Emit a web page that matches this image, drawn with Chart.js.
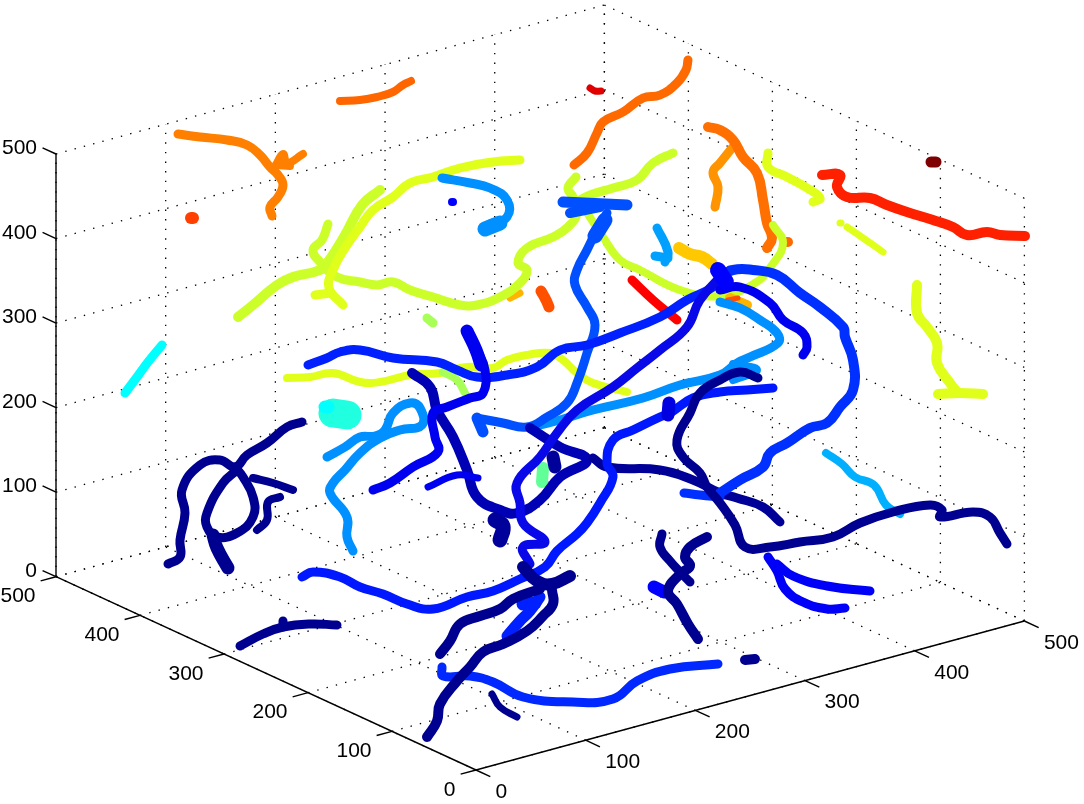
<!DOCTYPE html>
<html>
<head>
<meta charset="utf-8">
<title>3D traces</title>
<script src="https://cdn.jsdelivr.net/npm/chart.js@4/dist/chart.umd.min.js"></script>
<style>
  html, body { margin: 0; padding: 0; background: #fff; }
  canvas { display: block; }
</style>
</head>
<body>
<canvas id="plot" width="1084" height="804"></canvas>
<script>
// axis ticks, 0-500 on all three axes
const xTicks = [0, 100, 200, 300, 400, 500];
const yTicks = [0, 100, 200, 300, 400, 500];
const zTicks = [0, 100, 200, 300, 400, 500];

// traces, in projected view coordinates
const orangeMain = [[178,134],[200,137],[227,140],[247,145],[260,155],[270,167],[278,175],[283,185],[278,197],[270,207],[272,216]];
const orangeFork = [[275,167],[283,154],[287,163],[303,154]];
const orangeFork2 = [[276,165],[290,166]];
const orangeDot = [[191,218],[193,218]];
const orangeTop = [[340,101],[360,100],[377,97],[393,92],[403,85],[411,81]];
const redTick = [[590,88],[595,91],[601,91]];
const orangeLong = [[574,165],[587,153],[597,133],[603,122],[623,112],[643,98],[660,95],[677,83],[686,70],[688,60]];
const orangeRight = [[708,127],[720,130],[733,140],[743,157],[757,173],[763,200],[767,223],[772,238],[767,248]];
const amberRight = [[732,148],[720,163],[713,172],[718,187],[715,207]];
const orangeSpeck = [[787,242],[788,242]];
const redLong = [[822,175],[840,175],[837,187],[847,197],[870,198],[887,205],[907,212],[933,220],[953,227],[967,235],[987,232],[1000,235],[1025,236]];
const maroonDot = [[931,162],[936,162]];
const amberCluster = [[679,248],[690,254],[702,257],[712,264]];
const amberLow = [[730,298],[747,305]];
const emberLow = [[728,300],[738,298]];
const amberSmall = [[510,298],[520,293]];
const emberBlob = [[541,291],[546,300],[549,307]];
const redShort = [[632,280],[653,300],[677,320]];

const yellowArc = [[520,160],[493,162],[460,168],[433,177],[410,183],[393,197],[373,210],[360,227],[345,248],[333,270],[329,288],[343,305]];
const yellowFoot = [[315,295],[331,293]];
const limeArc = [[380,190],[362,205],[345,235],[328,262],[320,270],[293,277],[277,285],[253,305],[238,317]];
const limeLoop = [[328,224],[322,240],[313,250],[320,262],[337,277],[360,282],[377,285],[393,282],[410,290],[433,297],[460,305],[477,305],[500,297],[520,283],[527,270],[518,263],[527,248],[553,237],[568,227],[577,213],[573,197],[568,188],[576,177]];
const limeBranch = [[580,200],[590,195],[613,188],[637,180],[653,163],[673,153]];
const limeSweep = [[584,208],[603,237],[620,260],[640,270],[680,290],[720,296],[755,283],[772,265],[783,243],[773,225]];
const yellowHook = [[768,153],[768,167],[787,177],[807,188],[820,198],[813,202]];
const yellowDash = [[847,227],[863,238],[883,252]];
const yellowDot = [[840,223],[841,223]];
const yellowDrop = [[917,285],[917,313],[927,327],[937,343],[937,363],[950,383],[957,392]];
const yellowBase = [[938,394],[960,393],[983,394]];
const yellowMid = [[287,378],[310,377],[333,373],[360,382],[380,382],[410,375],[440,373],[467,367],[493,368],[507,360],[527,355],[550,353],[563,360],[577,373],[593,383],[627,392]];
const greenSpot = [[427,318],[433,323]];
const greenDash = [[443,372],[457,380],[465,393]];
const greenBlob = [[543,468],[542,482]];

const cyanDash = [[162,345],[148,362],[137,377],[125,393]];
const tealBlob = [[333,413],[347,415]];
const cyanBlob = [[325,407],[328,407]];
const skyLow = [[826,453],[842,464],[855,477],[874,485],[886,505],[900,514]];

const azureTop = [[442,178],[470,183],[490,188],[507,200],[507,217],[490,224]];
const azureBlob = [[485,229],[500,223]];
const blueDot = [[452,202],[453,202]];
const azureSpike = [[657,228],[668,252],[665,262]];
const azureSpur = [[655,256],[668,258]];
const azureLoop = [[327,457],[345,447],[360,437],[375,436],[385,430],[393,413],[410,403],[420,408],[422,425],[400,430],[380,438],[360,453],[345,470],[333,483],[330,493],[347,517],[347,537],[353,551]];
const azureLong = [[720,302],[740,308],[760,320],[777,333],[778,343],[750,357],[737,363],[720,375],[680,385],[643,398],[593,410],[560,420],[540,425]];
const azureKnot = [[733,364],[757,370],[733,380]];

const blueBar = [[563,202],[627,205]];
const blueBar2 = [[570,213],[600,207]];
const blueDown = [[607,213],[597,230],[587,250],[577,270],[575,285],[587,307],[595,325],[587,353],[577,383],[567,403],[547,417],[527,427],[503,423],[477,418]];
const blueDownHead = [[605,220],[595,236]];
const blueFoot = [[477,418],[483,432]];
const blueSweep = [[308,365],[327,358],[340,352],[360,350],[393,358],[437,362],[457,370],[477,377],[507,375],[537,367],[560,350],[587,345],[620,333],[660,317],[687,300],[713,287],[730,270]];
const blueHook = [[467,330],[477,350],[485,370],[483,393],[470,398],[447,407],[433,413],[435,437],[438,452],[413,467],[390,483],[373,490]];
const blueHookHead = [[467,331],[476,350],[481,365]];
const blueDash = [[428,487],[457,475],[478,478]];
const navyMid = [[412,373],[430,387],[437,410],[453,437],[467,470],[477,497],[500,510],[517,513],[540,500],[560,477],[587,460],[560,447],[530,428]];
const navyBlob = [[495,520],[503,526],[500,540]];
const navyKnot = [[553,457],[555,467]];
const navyEast = [[593,458],[607,467],[660,470],[693,480],[720,493],[737,498],[763,507],[780,522]];
const blueDiag = [[725,272],[700,300],[687,327],[660,350],[637,368],[613,387],[577,410],[557,433],[540,457],[517,483],[520,503],[523,523],[545,542],[523,547],[530,564]];
const blueFork = [[720,290],[740,287],[770,303],[783,320],[803,333],[807,347],[803,355]];
const blueArc = [[720,277],[733,270],[753,270],[777,275],[800,293],[820,307],[843,327],[845,337],[853,360],[853,390],[840,407],[827,423],[810,428],[787,443],[770,453],[763,467],[740,480],[720,493]];
const blueHub = [[718,270],[726,282]];
const blueStub = [[684,493],[700,495],[720,497]];
const blueLoop = [[773,388],[747,390],[720,392],[693,398],[670,413],[660,417],[633,430],[613,440],[607,463],[613,477],[600,503],[587,523],[577,534],[557,551],[545,567],[520,579],[493,591],[467,597],[433,609],[407,604],[383,594],[360,587],[340,577],[313,572],[302,577]];
const blueKnob = [[669,403],[668,415]];
const blueUnder = [[507,636],[520,621],[530,611],[540,597]];
const blueUnderBlob = [[523,604],[535,603]];
const blueBottom = [[442,667],[443,676],[470,676],[493,682],[523,697],[573,702],[613,699],[637,681],[670,669],[718,664]];
const blueSpurA = [[768,557],[777,571],[785,589],[803,602],[827,609],[845,608]];
const blueSpurB = [[777,564],[793,576],[827,586],[870,591]];
const blueWedge = [[654,587],[664,592]];

const navyRing = [[302,422],[287,427],[267,443],[247,455],[235,467],[220,460],[200,465],[182,490],[185,513],[180,540],[180,557],[168,564]];
const navyRing2 = [[237,470],[223,483],[207,513],[207,527],[217,537],[237,533],[253,517],[253,497],[243,477],[235,467]];
const navyWhisker = [[253,478],[273,483],[293,490]];
const navyWhisker2 = [[280,497],[268,502],[267,520],[257,530]];
const navyFoot = [[213,535],[217,548],[228,568]];
const navyFlat = [[240,646],[263,634],[283,627],[310,624],[337,625]];
const navyFlatBump = [[283,621],[283,627]];
const navyArch = [[758,378],[740,372],[720,380],[700,393],[690,413],[677,440],[683,457],[700,473],[707,487],[720,503],[735,525],[745,547],[770,547],[800,542],[833,537],[860,523],[893,512],[930,505],[942,510],[940,517],[973,512],[990,517],[1000,533],[1007,544]];
const navyPairA = [[662,534],[660,547],[670,561],[682,574],[690,582]];
const navyPairB = [[707,537],[690,547],[685,557],[690,566],[680,574],[668,591],[677,604],[688,624],[698,639]];
const navyCross = [[523,567],[537,581],[552,584],[570,576]];
const navyRootA = [[540,589],[513,599],[500,609],[480,616],[460,624],[450,641],[440,654]];
const navyRootB = [[552,590],[553,604],[543,616],[527,631],[503,644],[483,652],[470,667],[457,681],[440,704],[437,721],[427,737]];
const navySpeckA = [[492,694],[500,707],[517,717]];
const navySpeckB = [[745,660],[755,659]];

// painting order: first row goes underneath
const traces = [
  [redShort, '#ff0000', 9], [redTick, '#e00000', 7], [redLong, '#ff2000', 10], [maroonDot, '#7f0000', 11],
  [orangeMain, '#ff8000', 9], [orangeFork, '#ff8000', 8], [orangeFork2, '#ff8000', 8], [orangeDot, '#ff4000', 12],
  [orangeTop, '#ff6600', 8], [orangeLong, '#ff6a00', 9], [orangeSpeck, '#ff6a00', 10], [amberRight, '#ff9400', 9], [orangeRight, '#ff7000', 10],
  [amberSmall, '#ffb400', 7], [emberBlob, '#ff5000', 11], [amberCluster, '#ffc800', 12],
  [limeSweep, '#ccff2a', 8], [limeArc, '#ccff2a', 10], [limeLoop, '#ccff2a', 9], [limeBranch, '#ccff2a', 9],
  [yellowArc, '#e0ff1a', 9], [yellowFoot, '#e0ff1a', 9], [yellowHook, '#e0ff1a', 9], [yellowDash, '#e0ff1a', 7], [yellowDot, '#e0ff1a', 7],
  [yellowDrop, '#e0ff1a', 10], [yellowBase, '#e0ff1a', 10], [yellowMid, '#e0ff1a', 8],
  [amberLow, '#ffb400', 10], [emberLow, '#ff5000', 5],
  [greenSpot, '#a8ff57', 9], [greenDash, '#a8ff57', 8], [greenBlob, '#60ff97', 12],
  [cyanDash, '#00ffff', 9], [tealBlob, '#20ffdf', 29], [cyanBlob, '#00ffff', 13], [skyLow, '#00b0ff', 8],
  [azureTop, '#0090ff', 9], [azureBlob, '#0090ff', 15], [azureSpike, '#00a0ff', 9], [azureSpur, '#00a0ff', 9],
  [azureLoop, '#0090ff', 9], [azureLong, '#0090ff', 9], [azureKnot, '#0090ff', 8],
  [blueDown, '#0050ff', 9], [blueDownHead, '#0050ff', 15], [blueFoot, '#0050ff', 11], [blueBar, '#0050ff', 11], [blueBar2, '#0050ff', 10], [blueDot, '#0000ff', 8],
  [navyMid, '#0000b4', 10], [navyBlob, '#00009a', 15], [navyKnot, '#00009a', 13], [navyEast, '#000098', 9],
  [blueSweep, '#0020ff', 9], [blueHook, '#0000f0', 9], [blueHookHead, '#0000f0', 13], [blueDash, '#0000f0', 7], [blueDiag, '#0808e8', 9],
  [blueFork, '#0000f0', 9], [blueArc, '#0030ff', 10], [blueHub, '#0000ff', 16], [blueStub, '#0030ff', 9], [blueLoop, '#0018ff', 9], [blueKnob, '#0000e0', 13],
  [blueUnder, '#0020ff', 11], [blueUnderBlob, '#0020ff', 13], [blueBottom, '#0028ff', 9], [blueSpurA, '#0000f8', 9], [blueSpurB, '#0000f8', 9], [blueWedge, '#0000ff', 13],
  [navyRing, '#000090', 9], [navyRing2, '#000090', 9], [navyWhisker, '#000090', 8], [navyWhisker2, '#000090', 8], [navyFoot, '#000090', 13],
  [navyFlat, '#000090', 9], [navyFlatBump, '#000090', 9], [navyArch, '#000090', 9], [navyPairA, '#000090', 9], [navyPairB, '#000090', 10],
  [navyCross, '#000090', 12], [navyRootA, '#000090', 10], [navyRootB, '#000090', 10], [navySpeckA, '#000090', 7], [navySpeckB, '#000090', 10],
];

// orthographic view of the 0-500 cube, x runs right, y runs left, z runs up
function project(x, y, z) {
  return { x: 476 + 1.0968 * x - 0.84 * y, y: 770 - 0.298 * x - 0.3866 * y - 0.8454 * z };
}

function gridLine(a, b) {
  return {
    data: [project(...a), project(...b)],
    borderColor: '#000',
    borderWidth: 1.3,
    borderDash: [1.4, 8.2],
    pointRadius: 0,
    tension: 0,
  };
}

function axisLine(a, b) {
  return { data: [project(...a), project(...b)], borderColor: '#000', borderWidth: 1.4, pointRadius: 0, tension: 0 };
}

const back = [];
xTicks.forEach(t => {
  back.push(gridLine([t, 0, 0], [t, 500, 0]));
  back.push(gridLine([t, 500, 0], [t, 500, 500]));
});
yTicks.forEach(t => {
  back.push(gridLine([0, t, 0], [500, t, 0]));
  back.push(gridLine([500, t, 0], [500, t, 500]));
});
zTicks.forEach(t => {
  back.push(gridLine([0, 500, t], [500, 500, t]));
  back.push(gridLine([500, 500, t], [500, 0, t]));
});

const axes = [
  axisLine([0, 0, 0], [500, 0, 0]),
  axisLine([0, 0, 0], [0, 500, 0]),
  axisLine([0, 500, 0], [0, 500, 500]),
];
xTicks.forEach(t => axes.push(axisLine([t, 0, 0], [t, -17, 0])));
yTicks.forEach(t => axes.push(axisLine([0, t, 0], [-14, t, 0])));
zTicks.forEach(t => axes.push(axisLine([0, 500, t], [0, 516, t])));

const curves = traces.map(([pts, color, width]) => ({
  data: pts.map(([x, y]) => ({ x, y })),
  borderColor: color,
  borderWidth: width,
  borderCapStyle: 'round',
  borderJoinStyle: 'round',
  pointRadius: 0,
  tension: 0.45,
}));

// tick numbers, placed next to their tick in view coordinates
const tickLabels = {
  id: 'tickLabels',
  afterDraw(chart) {
    const { ctx, scales } = chart;
    const put = (text, p, dx, dy, align) => {
      ctx.textAlign = align;
      ctx.fillText(String(text), scales.x.getPixelForValue(p.x + dx), scales.y.getPixelForValue(p.y + dy));
    };
    ctx.save();
    ctx.font = '21px "Liberation Sans", Arial, sans-serif';
    ctx.fillStyle = '#000';
    ctx.textBaseline = 'middle';
    xTicks.forEach(t => put(t, project(t, 0, 0), 19.5, 22, 'left'));
    yTicks.forEach(t => put(t, project(0, t, 0), -20.5, 20, 'right'));
    zTicks.forEach(t => put(t, project(0, 500, t), -19, -5.5, 'right'));
    ctx.restore();
  },
};

// chart.js paints the first dataset on top
const datasets = [...back, ...curves, ...axes].reverse();

new Chart(document.getElementById('plot').getContext('2d'), {
  type: 'line',
  data: { datasets },
  options: {
    responsive: false,
    animation: false,
    parsing: false,
    normalized: false,
    layout: { padding: 0 },
    plugins: { legend: { display: false }, tooltip: { enabled: false } },
    scales: {
      x: { type: 'linear', min: 0, max: 1084, display: false },
      y: { type: 'linear', min: 0, max: 804, reverse: true, display: false },
    },
  },
  plugins: [tickLabels],
});
</script>
</body>
</html>
